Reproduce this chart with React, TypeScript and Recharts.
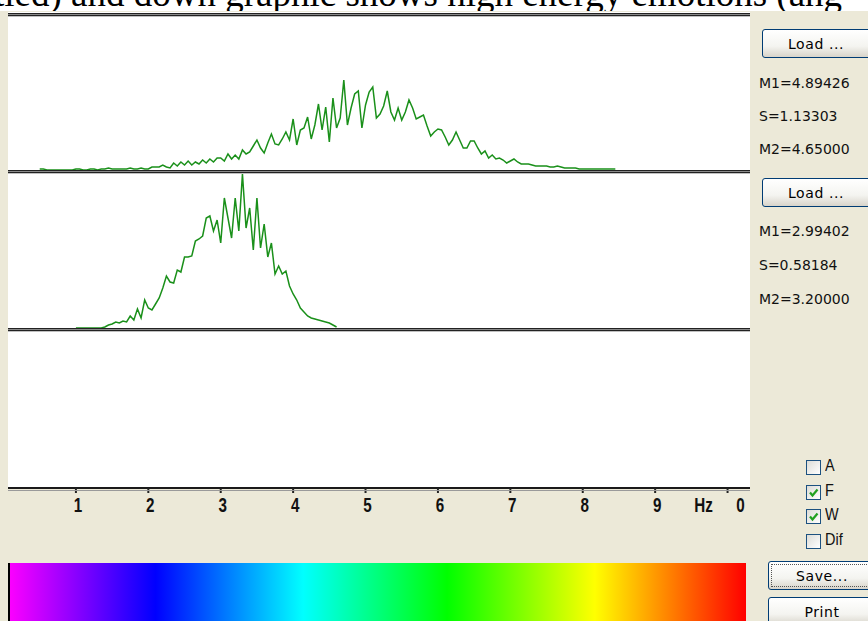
import { LineChart, Line, XAxis, YAxis } from 'recharts';

// spectrum sampling (Hz)
const STEP = 0.05;
const TOP_START = 0.5;
const BOTTOM_START = 1.0;

// upper spectrum, 0.50 .. 8.45 Hz
const topAmp = [
  1, 1, 0, 0, 0, 0, 0, 0, 0, 0,
  1, 1, 0, 0, 1, 1, 0, 1, 1, 2,
  1, 1, 1, 1, 1, 2, 1, 1, 2, 1,
  1, 3, 3, 3, 5, 3, 2, 7, 4, 8,
  5, 9, 5, 8, 6, 10, 7, 11, 8, 12,
  12, 9, 16, 11, 15, 11, 20, 16, 18, 24,
  30, 22, 17, 27, 36, 26, 25, 31, 38, 30,
  51, 25, 40, 42, 53, 31, 45, 66, 40, 63,
  28, 72, 42, 52, 90, 45, 62, 76, 79, 42,
  65, 78, 83, 52, 56, 64, 79, 58, 50, 62,
  50, 58, 70, 62, 51, 53, 55, 44, 34, 38,
  41, 40, 33, 25, 30, 38, 30, 22, 22, 29,
  29, 22, 16, 19, 12, 15, 11, 12, 10, 7,
  9, 11, 8, 6, 6, 6, 5, 4, 4, 4,
  4, 3, 3, 4, 3, 2, 2, 2, 2, 1,
  1, 1, 1, 1, 1, 1, 1, 1, 1, 1,
];

// lower spectrum, 1.00 .. 4.60 Hz
const bottomAmp = [
  0, 0, 0, 0, 0, 0, 0, 0, 1, 3,
  4, 6, 5, 7, 6, 12, 8, 19, 10, 28,
  20, 18, 24, 30, 40, 52, 46, 45, 58, 56,
  71, 71, 72, 87, 89, 92, 110, 112, 97, 108,
  85, 130, 110, 90, 130, 97, 154, 100, 120, 78,
  130, 80, 104, 71, 85, 54, 62, 54, 57, 42,
  34, 28, 20, 16, 12, 10, 9, 8, 7, 6,
  5, 3, 1,
];

const hzTicks = [1, 2, 3, 4, 5, 6, 7, 8, 9, 10];

const stats1 = ['M1=4.89426', 'S=1.13303', 'M2=4.65000'];
const stats2 = ['M1=2.99402', 'S=0.58184', 'M2=3.20000'];
const checks = [
  { label: 'A', on: false },
  { label: 'F', on: true },
  { label: 'W', on: true },
  { label: 'Dif', on: false },
];

const topData = topAmp.map((v, i) => ({ f: +(TOP_START + i * STEP).toFixed(2), v }));
const bottomData = bottomAmp.map((v, i) => ({ f: +(BOTTOM_START + i * STEP).toFixed(2), v }));

const BEIGE = '#ECE9D8';
const GREEN = '#1a901a';
const X_DOMAIN: [number, number] = [0.062, 10.31];
const UI_FONT = '"DejaVu Sans", Verdana, sans-serif';
const NARROW = '"Liberation Sans", Arial, sans-serif';

// tall narrow axis digits like the original app
const Tall = ({ x, y, children }: any) => (
  <text transform={`translate(${x},${y}) scale(1.05,1.45)`} textAnchor="middle"
    fontFamily={NARROW} fontWeight={700} fontSize={14.5} fill="#111">{children}</text>
);

const HzTick = (props: any) => {
  const { x, y, payload } = props;
  if (payload.value === 10) {
    return (
      <g>
        <Tall x={x - 24} y={y + 17}>Hz</Tall>
        <Tall x={x + 13} y={y + 17}>0</Tall>
      </g>
    );
  }
  return <Tall x={x + 2} y={y + 17}>{payload.value}</Tall>;
};

const Sep = ({ top }: { top: number }) => (
  <div style={{ position: 'absolute', left: 8, top, width: 742, height: 4 }}>
    <div style={{ height: 1, background: '#222' }} />
    <div style={{ height: 1, background: '#8a8a8a' }} />
    <div style={{ height: 1, background: '#222' }} />
    <div style={{ height: 1, background: '#c0c0c0' }} />
  </div>
);

const XpButton = ({ top, left, label, focus }: { top: number; left: number; label: string; focus?: boolean }) => (
  <div style={{
    position: 'absolute', left, top, width: 120, height: 29, boxSizing: 'border-box',
    border: '1px solid #003c74', borderRadius: 3,
    background: 'linear-gradient(#ffffff, #f4f4f0 60%, #d8d4ca)',
    fontFamily: UI_FONT, fontSize: 14, color: '#000',
  }}>
    {focus && <div style={{ position: 'absolute', inset: 2, border: '1px dotted #555' }} />}
    <div style={{ position: 'absolute', left: 0, width: 106, top: 6, textAlign: 'center', letterSpacing: 0.6 }}>{label}</div>
  </div>
);

const StatText = ({ top, text }: { top: number; text: string }) => (
  <div style={{ position: 'absolute', left: 759, top, fontFamily: UI_FONT, fontSize: 14, color: '#111', whiteSpace: 'nowrap' }}>{text}</div>
);

export default function App() {
  return (
    <div style={{ position: 'absolute', left: 0, top: 0, width: 868, height: 621, overflow: 'hidden', background: BEIGE }}>
      {/* caption strip of the surrounding document */}
      <div style={{ position: 'absolute', left: 0, top: 0, width: 868, height: 11, background: '#fff', overflow: 'hidden' }}>
        <div style={{ position: 'absolute', left: -6, top: -25, fontFamily: '"Liberation Serif", "Times New Roman", serif', fontSize: 37, lineHeight: '37px', whiteSpace: 'nowrap', color: '#000' }}>
          tied) and down graphic shows high energy emotions (ang
        </div>
      </div>

      {/* plot background */}
      <div style={{ position: 'absolute', left: 8, top: 12, width: 742, height: 476, background: '#fff' }} />

      <Sep top={13} />
      <Sep top={170} />
      <Sep top={328} />

      <div style={{ position: 'absolute', left: 8, top: 16 }}>
        <LineChart width={742} height={154} data={topData} margin={{ top: 0, right: 0, bottom: 0, left: 0 }}>
          <XAxis dataKey="f" type="number" domain={X_DOMAIN} hide allowDataOverflow />
          <YAxis domain={[0, 154]} hide allowDataOverflow />
          <Line dataKey="v" type="linear" stroke={GREEN} strokeWidth={1.5} dot={false} isAnimationActive={false} />
        </LineChart>
      </div>

      <div style={{ position: 'absolute', left: 8, top: 174 }}>
        <LineChart width={742} height={154} data={bottomData} margin={{ top: 0, right: 0, bottom: 0, left: 0 }}>
          <XAxis dataKey="f" type="number" domain={X_DOMAIN} hide allowDataOverflow />
          <YAxis domain={[0, 154]} hide allowDataOverflow />
          <Line dataKey="v" type="linear" stroke={GREEN} strokeWidth={1.5} dot={false} isAnimationActive={false} />
        </LineChart>
      </div>

      {/* frequency axis */}
      <div style={{ position: 'absolute', left: 8, top: 333 }}>
        <LineChart width={742} height={185} data={bottomData} margin={{ top: 0, right: 0, bottom: 0, left: 0 }}>
          <XAxis
            dataKey="f" type="number" domain={X_DOMAIN} allowDataOverflow
            ticks={hzTicks} interval={0} height={30}
            axisLine={{ stroke: '#1a1a1a', strokeWidth: 2 }}
            tickLine={{ stroke: '#222', strokeWidth: 2 }} tickSize={5}
            tick={<HzTick />}
          />
          <YAxis domain={[0, 154]} hide />
        </LineChart>
      </div>
      <div style={{ position: 'absolute', left: 8, top: 490, width: 742, height: 1, background: '#9a9a9a' }} />

      {/* colour scale */}
      <div style={{ position: 'absolute', left: 8, top: 563, width: 738, height: 58, background: 'linear-gradient(to right, #ff00ff, #0000ff 20%, #00ffff 40%, #00ff00 59.5%, #ffff00 79.5%, #ff0000)' }} />
      <div style={{ position: 'absolute', left: 8, top: 563, width: 2, height: 58, background: '#000' }} />

      {/* right panel */}
      <XpButton top={29} left={762} label="Load ..." />
      {stats1.map((t, i) => <StatText key={t} top={75 + i * 33} text={t} />)}
      <XpButton top={178} left={762} label="Load ..." />
      {stats2.map((t, i) => <StatText key={t} top={223 + i * 34} text={t} />)}

      {checks.map((c, i) => (
        <div key={c.label} style={{ position: 'absolute', left: 806, top: 460 + i * 24.5, height: 15 }}>
          <div style={{ position: 'absolute', left: 0, top: 0, width: 15, height: 15, boxSizing: 'border-box', border: '1px solid #1c5180', background: 'linear-gradient(135deg, #dcdcd7, #ffffff)' }}>
            {c.on && (
              <svg width={13} height={13} style={{ position: 'absolute', left: 0, top: 0 }}>
                <polyline points="3,6.5 5.5,9.5 10.5,3.5" fill="none" stroke="#21a121" strokeWidth={2.2} />
              </svg>
            )}
          </div>
          <div style={{ position: 'absolute', left: 19, top: -4, fontFamily: NARROW, fontSize: 17, color: '#111', transform: 'scaleX(0.85)', transformOrigin: 'left' }}>{c.label}</div>
        </div>
      ))}

      <XpButton top={561} left={768} label="Save..." focus />
      <XpButton top={597} left={768} label="Print" />
    </div>
  );
}
